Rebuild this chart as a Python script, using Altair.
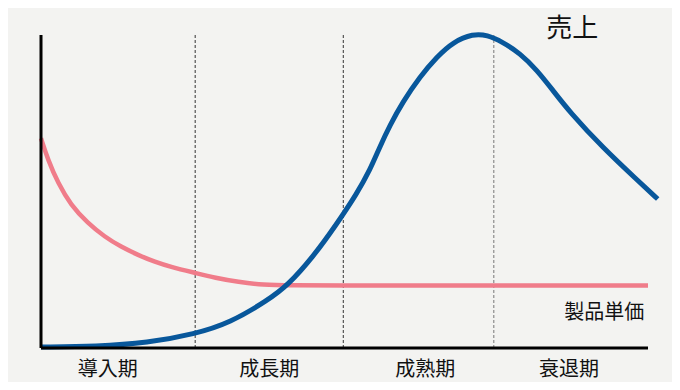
import altair as alt
import pandas as pd

# Sales curve (売上)
sales_x = [0, 9.2, 17.5, 25.4, 31.1, 37.4, 40.7, 44.8, 48.4, 52.1, 54.2, 55.8, 57.5, 59.6, 62.4, 65.2, 67.9, 71.2, 73.5, 76.0, 78.9, 81.7, 84.3, 87.1, 92.6, 98.2, 101.6]
sales_y = [0.3, 0.5, 1.6, 4.5, 8.0, 15.3, 20.1, 29.1, 38.7, 49.5, 56.9, 64.2, 71.2, 78.6, 86.6, 93.0, 97.8, 100.4, 100.0, 97.8, 94.2, 88.8, 82.4, 75.4, 63.9, 53.7, 47.6]

# Unit price curve (製品単価)
price_x = [0, 1.15, 2.8, 4.9, 7.7, 10.5, 13.2, 16.0, 18.8, 21.4, 25.4, 28.7, 32.5, 36.6, 41.0, 50.0, 60.0, 75.0, 90.0, 100.0]
price_y = [67.0, 60.1, 52.7, 45.7, 39.9, 35.5, 32.3, 29.7, 27.5, 25.9, 24.0, 22.4, 21.1, 20.1, 20.0, 20.0, 20.0, 20.0, 20.0, 20.0]

stage_names = ["導入期", "成長期", "成熟期", "衰退期"]
stage_centers = [11.0, 37.6, 63.3, 87.0]
stage_bounds = [25.4, 49.8, 74.6]
stage_bound_colors = ["#333333", "#333333", "#777777"]

series_labels = ["売上", "製品単価"]
label_x = [87.5, 92.8]
label_y = [102.0, 11.3]
label_size = [26, 20]

FONT = "Noto Sans CJK JP"
BLUE = "#08579b"
PINK = "#f07c8a"

xs = alt.Scale(domain=[0, 100], nice=False, zero=False)
ys = alt.Scale(domain=[0, 100], nice=False, zero=False)

sales_df = pd.DataFrame({"x": sales_x, "y": sales_y})
price_df = pd.DataFrame({"x": price_x, "y": price_y})
bounds_df = pd.DataFrame({"x": stage_bounds, "y": [0] * 3, "y2": [100] * 3, "c": stage_bound_colors})
stage_df = pd.DataFrame({"name": stage_names, "x": stage_centers, "y": [-7.0] * 4})
lab_df = pd.DataFrame({"t": series_labels, "x": label_x, "y": label_y, "s": label_size})
axis_df = pd.DataFrame({"x": [0], "x2": [100], "y": [0], "y2": [100]})


def bx(f="x"):
    return alt.X(f"{f}:Q", scale=xs, axis=None)


def by(f="y"):
    return alt.Y(f"{f}:Q", scale=ys, axis=None)


dashed = alt.Chart(bounds_df).mark_rule(strokeWidth=1, strokeDash=[3, 2]).encode(
    x=bx(), y=by(), y2="y2:Q", color=alt.Color("c:N", scale=None)
)

price_line = alt.Chart(price_df).mark_line(
    color=PINK, strokeWidth=4.5, interpolate="basis", strokeCap="butt"
).encode(x=bx(), y=by())

sales_line = alt.Chart(sales_df).mark_line(
    color=BLUE, strokeWidth=5, interpolate="basis", strokeCap="butt"
).encode(x=bx(), y=by())

y_axis_line = alt.Chart(axis_df).mark_rule(color="black", strokeWidth=3).encode(
    x=bx(), y=by(), y2="y2:Q"
)
x_axis_line = alt.Chart(axis_df).mark_rule(color="black", strokeWidth=3).encode(
    x=bx(), x2="x2:Q", y=by()
)

stage_text = alt.Chart(stage_df).mark_text(
    font=FONT, fontSize=20, color="#111111", align="center", baseline="middle"
).encode(x=bx(), y=by(), text="name:N")

series_text = alt.Chart(lab_df).mark_text(
    font=FONT, color="#111111", align="center", baseline="middle"
).encode(x=bx(), y=by(), text="t:N", size=alt.Size("s:Q", scale=None, legend=None))

chart = alt.layer(
    dashed, price_line, sales_line, y_axis_line, x_axis_line, stage_text, series_text
).properties(
    width=607,
    height=313,
    background="#f3f3f1",
    padding={"left": 33, "top": 27, "right": 24, "bottom": 34},
    autosize=alt.AutoSizeParams(type="none"),
).configure_view(stroke=None)

chart.save("out.html", embed_options={"renderer": "svg", "actions": False})
